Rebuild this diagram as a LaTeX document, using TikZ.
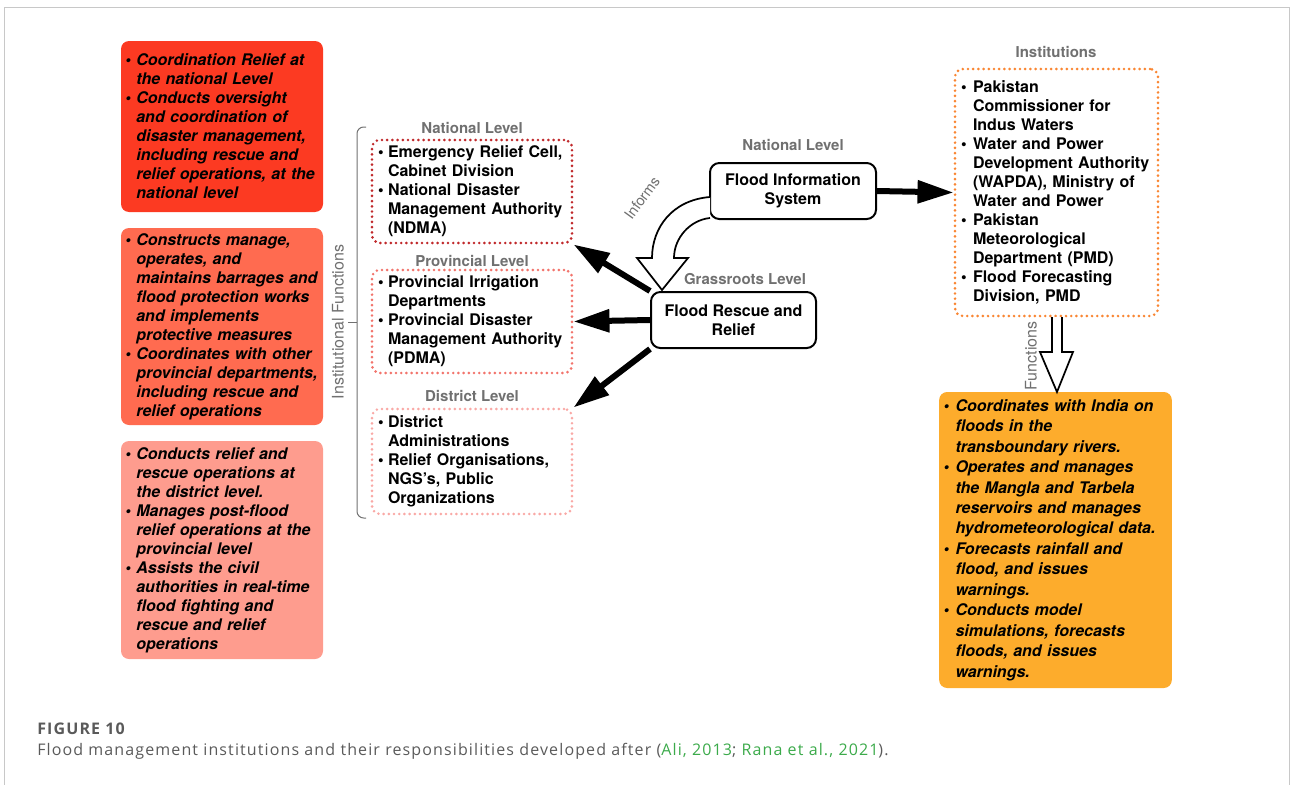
\documentclass[tikz,border=0pt]{standalone}
\usepackage{fontspec}
\setmainfont{TeX Gyre Heros}
\newfontfamily\capfont[LetterSpace=7]{Open Sans}
\usetikzlibrary{arrows.meta,positioning,calc}

\definecolor{natred}{HTML}{FC3A22}
\definecolor{provred}{HTML}{FF6B50}
\definecolor{distred}{HTML}{FE9C8E}
\definecolor{natdot}{HTML}{C0292B}
\definecolor{provdot}{HTML}{F2746C}
\definecolor{distdot}{HTML}{F9A9A6}
\definecolor{instdot}{HTML}{F98633}
\definecolor{funcorange}{HTML}{FDAC2C}
\definecolor{lblgray}{HTML}{707070}
\definecolor{capgray}{HTML}{5A5A5A}
\definecolor{citegreen}{HTML}{3BAA4A}
\definecolor{framegray}{HTML}{C8C8C8}

% bullet item with hanging indent
\newcommand{\itm}[2][8.25pt]{\noindent\hangindent=#1\hangafter=1\makebox[#1][l]{\textbullet}{\def\\{\hfil\break}#2}\par}

\tikzset{
  fnbox/.style={fill=#1, rounded corners=6pt, align=left,
    font=\fontsize{12}{14.25}\selectfont\bfseries\itshape,
    text width=145pt, inner xsep=3.25pt, inner ysep=0pt},
  lvlbox/.style={draw=#1, line width=2.2pt, dash pattern=on 0pt off 3.9pt,
    line cap=round, rounded corners=6pt, align=left,
    font=\fontsize{12}{14.25}\selectfont\bfseries,
    text width=141pt, inner xsep=4.5pt, inner ysep=0pt, minimum height=77.25pt},
  lvllabel/.style={text=lblgray, font=\fontsize{11.25}{13}\selectfont\bfseries},
  sidelabel/.style={text=lblgray, font=\fontsize{12}{14}\selectfont},
  sysbox/.style={draw, line width=1.5pt, rounded corners=7pt, align=center,
    font=\fontsize{12}{14.25}\selectfont\bfseries,
    minimum width=124.5pt, minimum height=42pt},
  bigarrow/.style={line width=4.5pt, -{Triangle[length=27pt,width=16.5pt]}},
  hollow/.style={fill=white, draw, line width=1.3pt, line join=miter},
}

\begin{document}
\begin{tikzpicture}[x=0.75pt, y=-0.75pt]
\useasboundingbox (0,0) rectangle (1290,785);

% frame
\draw[framegray, line width=0.75pt] (4,785) -- (4,7) -- (1289,7) -- (1289,785);

% functions on the left
\node[fnbox=natred, minimum height=128.25pt] (fnnat) at (222,126.5) {%
\itm{Coordination Relief at\\the national Level}
\itm{Conducts oversight\\and coordination of\\disaster management,\\including rescue and\\relief operations, at the\\national level}};
\node[fnbox=provred, minimum height=147.75pt] (fnprov) at (222,326.5) {%
\itm{Constructs manage,\\operates, and\\maintains barrages and\\flood protection works\\and implements\\protective measures}
\itm{Coordinates with other\\provincial departments,\\including rescue and\\relief operations}};
\node[fnbox=distred, minimum height=163.5pt] (fndist) at (222,550) {%
\itm{Conducts relief and\\rescue operations at\\the district level.}
\itm{Manages post-flood\\relief operations at the\\provincial level}
\itm{Assists the civil\\authorities in real-time\\flood fighting and\\rescue and relief\\operations}};

% bracket
\draw[lblgray, line width=0.75pt, rounded corners=5pt] (366,127) -- (357,127) -- (357,518) -- (366,518);
\draw[lblgray, line width=0.75pt] (357,322) -- (348,322);
\node[sidelabel, rotate=90] (instfn) at (338,322) {Institutional Functions};

% levels
\node[lvlbox=natdot] (natl) at (472,191.5) {%
\itm[7.5pt]{Emergency Relief Cell,\\Cabinet Division}
\itm[7.5pt]{National Disaster\\Management Authority\\(NDMA)}};
\node[lvllabel] (natllbl) at (472,128) {National Level};
\node[lvlbox=provdot] (prov) at (472,321.5) {%
\itm[7.5pt]{Provincial Irrigation\\Departments}
\itm[7.5pt]{Provincial Disaster\\Management Authority\\(PDMA)}};
\node[lvllabel] (provlbl) at (472,261) {Provincial Level};
\node[lvlbox=distdot, minimum height=78.75pt] (dist) at (472,461.5) {%
\itm[7.5pt]{District\\Administrations}
\itm[7.5pt]{Relief Organisations,\\NGS's, Public\\Organizations}};
\node[lvllabel] (distlbl) at (472,396) {District Level};

% systems
\node[sysbox] (fis) at (793,191) {Flood Information\\System};
\node[lvllabel] (fislbl) at (793,145) {National Level};
\node[sysbox, minimum width=123.75pt] (frr) at (733.5,320) {Flood Rescue and\\Relief};
\node[lvllabel] (frrlbl) at (745,279) {Grassroots Level};

% institutions
\node[lvlbox=instdot, text width=143.25pt, minimum height=185.25pt] (inst) at (1056.5,192.5) {%
\itm[9pt]{Pakistan\\Commissioner for\\Indus Waters}
\itm[9pt]{Water and Power\\Development Authority\\(WAPDA), Ministry of\\Water and Power}
\itm[9pt]{Pakistan\\Meteorological\\Department (PMD)}
\itm[9pt]{Flood Forecasting\\Division, PMD}};
\node[lvllabel] (instlbl) at (1056,52) {Institutions};

\node[fnbox=funcorange, font=\fontsize{12}{15.35}\selectfont\bfseries\itshape,
  text width=168pt, minimum height=222pt] (func) at (1055.5,540) {%
\itm[9pt]{Coordinates with India on\\floods in the\\transboundary rivers.}
\itm[9pt]{Operates and manages\\the Mangla and Tarbela\\reservoirs and manages\\hydrometeorological data.}
\itm[9pt]{Forecasts rainfall and\\flood, and issues\\warnings.}
\itm[9pt]{Conducts model\\simulations, forecasts\\floods, and issues\\warnings.}};

% arrows
\draw[bigarrow] (frr.north west) -- (natl.south east);
\draw[bigarrow] (frr.west) -- (prov.east);
\draw[bigarrow] (frr.south west) -- (dist.north east);
\draw[bigarrow] (fis.east) -- (inst.west);

% hollow arrows
\filldraw[hollow] (710,197) .. controls (672,200) and (652,228) .. (652,258)
  -- (637,258) -- (662,290) -- (688,258) -- (674,258)
  .. controls (674,238) and (690,220) .. (710,218);
\node[sidelabel, font=\fontsize{11}{13}\selectfont, rotate=54] (informs) at (642,198) {Informs};
\filldraw[hollow] (1052,317) -- (1052,352) -- (1040,352) -- (1057,392)
  -- (1073,352) -- (1062,352) -- (1062,317);
\node[sidelabel, rotate=90] (funclbl) at (1031,356) {Functions};

% caption
\node[anchor=base west, inner sep=0pt, text=capgray, font=\capfont\fontsize{12}{14}\selectfont\bfseries] (figno) at (37,734) {FIGURE 10};
\node[anchor=base west, inner sep=0pt, text=capgray, font=\capfont\fontsize{12}{14}\selectfont] (cap) at (37,755) {Flood management institutions and their responsibilities developed after (\textcolor{citegreen}{Ali, 2013}; \textcolor{citegreen}{Rana et al., 2021}).};
\end{tikzpicture}
\end{document}
